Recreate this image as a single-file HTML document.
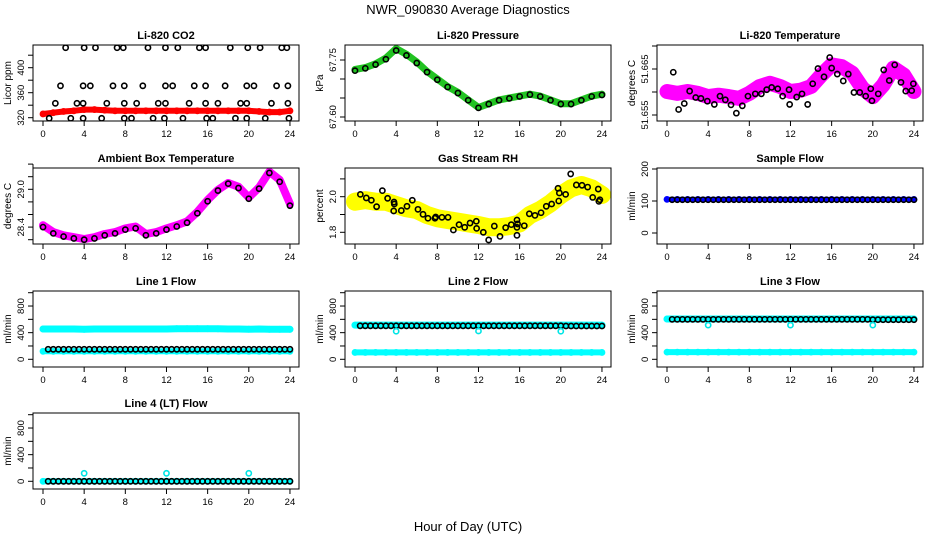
<!DOCTYPE html>
<html><head><meta charset="utf-8"><style>
body{margin:0;background:#fff}
svg{display:block;font-family:"Liberation Sans",Arial,sans-serif}
</style></head><body>
<svg id="c" width="936" height="540" viewBox="0 0 936 540">
<text x="468" y="14" text-anchor="middle" font-size="13">NWR_090830  Average Diagnostics</text>
<text x="468" y="531" text-anchor="middle" font-size="13">Hour of Day (UTC)</text>
</svg>
<script>
// ---------- DATA ----------
const hours = [0,1,2,3,4,5,6,7,8,9,10,11,12,13,14,15,16,17,18,19,20,21,22,23,24];
const xTicks = [0,4,8,12,16,20,24];
const halfHours = [0.5,1,1.5,2,2.5,3,3.5,4,4.5,5,5.5,6,6.5,7,7.5,8,8.5,9,9.5,10,10.5,11,11.5,12,12.5,13,13.5,14,14.5,15,15.5,16,16.5,17,17.5,18,18.5,19,19.5,20,20.5,21,21.5,22,22.5,23,23.5,24];

const co2Red = [326,328,330,331,333,333,332,331,331,331,331,331,331,331,331,331,331,331,331,331,331,330,329,329,331];
const co2BlackHours = [2.2,4.0,5.1,7.2,7.8,10.2,11.9,13.1,15.2,15.8,18.2,19.9,21.1,23.2,23.7,
 1.7,3.9,4.6,6.8,7.9,9.7,11.9,12.6,14.7,15.8,17.7,19.8,20.5,22.7,23.8,
 1.2,3.3,3.9,6.2,7.9,9.1,11.2,11.9,14.2,15.8,17.0,19.2,19.8,22.2,23.8,
 0.6,2.7,3.9,5.7,7.9,8.6,10.7,11.8,13.6,15.9,16.5,18.7,19.8,21.6,23.9];
const co2BlackVals = [432,432,432,432,432,432,432,432,432,432,432,432,432,432,432,
 371,371,371,371,371,371,371,371,371,371,371,371,371,371,371,
 343,343,343,343,343,343,343,343,343,343,343,343,343,343,343,
 319,319,319,319,319,319,319,319,319,319,319,319,319,319,319];

const pressGreen = [67.725,67.73,67.74,67.755,67.78,67.765,67.745,67.72,67.70,67.68,67.665,67.645,67.625,67.635,67.645,67.65,67.655,67.66,67.655,67.645,67.635,67.635,67.645,67.655,67.66];
const pressBlack = [67.722,67.728,67.738,67.752,67.775,67.762,67.742,67.718,67.698,67.679,67.663,67.644,67.624,67.634,67.644,67.649,67.654,67.659,67.654,67.644,67.634,67.634,67.644,67.654,67.658];

const tempMag = [51.6601,51.6597,51.6601,51.6597,51.6590,51.6593,51.6590,51.6586,51.6597,51.6612,51.6619,51.6612,51.6601,51.6604,51.6612,51.6637,51.6659,51.6655,51.6641,51.6608,51.6590,51.6615,51.6652,51.6637,51.6601];
const tempBlackHours = [0.61,1.13,1.68,2.2,2.79,3.3,3.92,4.6,5.15,5.67,6.22,6.74,7.32,7.87,8.58,9.17,9.69,10.17,10.76,11.24,11.86,11.92,12.6,13.12,13.67,14.16,14.67,15.26,15.81,16.0,16.55,17.13,17.62,18.17,18.73,19.31,19.8,19.92,20.53,21.06,21.6,22.13,22.74,23.2,23.78,23.94];
const tempBlackVals = [51.6643,51.6562,51.6575,51.6602,51.6588,51.6586,51.6580,51.6573,51.6591,51.6583,51.6572,51.6554,51.6570,51.6591,51.6596,51.6596,51.6605,51.6610,51.6607,51.6591,51.6605,51.6573,51.6589,51.6596,51.6573,51.6618,51.6651,51.6633,51.6675,51.6652,51.6639,51.6624,51.6639,51.6599,51.6599,51.6591,51.6607,51.6581,51.6596,51.6648,51.6625,51.6659,51.6621,51.6602,51.6603,51.6618];

const ambMag = [28.43,28.32,28.27,28.24,28.21,28.24,28.29,28.32,28.38,28.41,28.29,28.32,28.38,28.43,28.49,28.64,28.83,28.99,29.10,29.04,28.87,29.03,29.28,29.15,28.77];
const ambBlack = [28.40,28.30,28.25,28.22,28.20,28.22,28.27,28.30,28.36,28.38,28.27,28.30,28.36,28.41,28.47,28.62,28.81,28.98,29.09,29.02,28.85,29.01,29.26,29.12,28.74];

const rhYellow = [1.972,1.981,1.972,1.972,1.953,1.935,1.925,1.897,1.879,1.869,1.86,1.85,1.841,1.828,1.828,1.835,1.85,1.897,1.925,1.963,2.01,2.047,2.066,2.047,2.01];
const rhBlackHours = [0.52,1.10,1.59,2.1,2.66,3.17,3.79,3.82,3.76,4.5,5.05,5.57,6.12,6.61,7.09,7.77,7.84,8.45,9.04,9.56,10.11,10.66,11.18,11.79,11.82,12.47,12.99,13.54,14.09,14.64,15.19,15.74,15.74,15.74,15.8,16.45,16.94,17.49,18.08,18.59,19.11,19.73,19.8,19.86,20.47,20.96,21.51,22.06,22.61,23.1,23.64,23.7,23.8];
const rhBlackVals = [2.013,1.993,1.980,1.944,2.034,1.991,1.970,1.959,1.920,1.922,1.946,1.980,1.929,1.901,1.879,1.879,1.886,1.884,1.884,1.813,1.843,1.828,1.852,1.862,1.822,1.8,1.757,1.835,1.777,1.826,1.843,1.869,1.828,1.783,1.847,1.837,1.904,1.895,1.910,1.946,1.959,2.047,1.976,2.021,2.013,2.128,2.066,2.064,2.054,1.996,2.043,1.974,1.983];

const sampleBlue = [105,105,105,105,105,105,105,105,105,105,105,105,105,105,105,105,105,105,105,105,105,105,105,105,105];
const sampleBlack = [104,104,104,104,104,104,104,104,104,104,104,104,104,104,104,104,104,104,104,104,104,104,104,104,104,104,104,104,104,104,104,104,104,104,104,104,104,104,104,104,104,104,104,104,104,104,104,104];

const line1CyanHigh = [455,455,455,455,450,455,455,455,455,455,455,455,455,460,460,460,460,458,455,455,452,455,450,450,450];
const line1CyanLow = [120,120,120,120,120,120,120,120,120,120,120,120,120,120,120,120,120,120,120,120,120,120,120,120,120];
const line1Black = [150,150,150,150,150,150,150,150,150,150,150,150,150,150,150,150,150,150,150,150,150,150,150,150,150,150,150,150,150,150,150,150,150,150,150,150,150,150,150,150,150,150,150,150,150,150,150,150];

const line2CyanHigh = [513,513,513,513,513,513,513,513,513,513,513,513,513,513,513,513,513,513,513,513,513,513,513,513,513];
const line2CyanLow = [103,103,103,103,103,103,103,103,103,103,103,103,103,103,103,103,103,103,103,103,103,103,103,103,103];
const line2Black = [503,503,503,503,503,503,503,503,503,503,503,503,503,503,503,503,503,503,503,503,503,503,503,503,503,503,503,503,503,503,503,503,503,503,503,503,503,503,503,503,500,500,500,500,500,500,500,500];

const line3CyanHigh = [605,605,605,605,605,605,605,605,605,605,605,605,605,605,605,605,605,605,605,605,605,605,605,605,605];
const line3CyanLow = [108,108,108,108,108,108,108,108,108,108,108,108,108,108,108,108,108,108,108,108,108,108,108,108,108];
const line3Black = [600,600,600,600,600,600,600,600,600,600,600,600,600,600,600,600,600,600,600,600,600,600,600,600,600,600,600,600,600,600,600,600,600,600,600,600,600,600,600,595,595,595,595,595,595,595,595,595];

const line4Cyan = [0,0,0,0,0,0,0,0,0,0,0,0,0,0,0,0,0,0,0,0,0,0,0,0,0];
const line4Black = [0,0,0,0,0,0,0,0,0,0,0,0,0,0,0,0,0,0,0,0,0,0,0,0,0,0,0,0,0,0,0,0,0,0,0,0,0,0,0,0,0,0,0,0,0,0,0,0];

const outlierHours = [4,12,20];
const line2Outliers = [421,425,421];
const line3Outliers = [513,513,513];
const line4Outliers = [120,120,120];

// ---------- DRAWING ----------
const svg = document.getElementById('c');
const NS = 'http://www.w3.org/2000/svg';
const colX = [33,345,657], rowY = [45,168,291,413], W = 266, H = 76;

function mk(tag, attrs, parent){
  const e = document.createElementNS(NS, tag);
  for (const k in attrs) e.setAttribute(k, attrs[k]);
  (parent||svg).appendChild(e);
  return e;
}

function panel(col,row,name,title,ylab,yv1,yp1,yv2,yp2,yTicks,yLabels){
  const x0 = colX[col], y0 = rowY[row];
  const g = mk('g',{});
  
  
  const xs = h => x0 + 10 + h * 10.29;
  const ys = v => y0 + yp1 + (v - yv1) * (yp2 - yp1) / (yv2 - yv1);
  const t = mk('text',{x:x0+W/2,y:y0-6,'text-anchor':'middle','font-size':11,'font-weight':'bold'},g);
  t.textContent = title;
  
  
  const yl = mk('text',{x:0,y:0,'text-anchor':'middle','font-size':10,transform:`translate(${x0-22},${y0+H/2}) rotate(-90)`},g);
  yl.textContent = ylab;
  
  
  const xa = mk('g',{stroke:'#000','stroke-width':1},g);
  
  
  mk('line',{x1:xs(xTicks[0]),x2:xs(xTicks[xTicks.length-1]),y1:y0+H,y2:y0+H},xa);
  xTicks.forEach(v=>{
    mk('line',{x1:xs(v),x2:xs(v),y1:y0+H,y2:y0+H+5},xa);
    const l = mk('text',{x:xs(v),y:y0+H+16,'text-anchor':'middle','font-size':9.5,stroke:'none'},g);
    l.textContent = v;
    
    
  });
  const ya = mk('g',{stroke:'#000','stroke-width':1},g);
  
  
  mk('line',{x1:x0,x2:x0,y1:ys(yTicks[0]),y2:ys(yTicks[yTicks.length-1])},ya);
  yTicks.forEach(v=>mk('line',{x1:x0-5,x2:x0,y1:ys(v),y2:ys(v)},ya));
  yLabels.forEach(v=>{
    const l = mk('text',{x:0,y:0,'text-anchor':'middle','font-size':9.5,transform:`translate(${x0-9},${ys(v)}) rotate(-90)`},g);
    l.textContent = v;
    
    
  });
  const cid = 'clip' + col + row;
  const cp = mk('clipPath',{id:cid},g);
  mk('rect',{x:x0,y:y0,width:W,height:H},cp);
  const area = mk('g',{'clip-path':`url(#${cid})`},g);
  const box = mk('rect',{x:x0,y:y0,width:W,height:H,fill:'none',stroke:'#000','stroke-width':1},g);
  
  
  return {xs, ys, area, name};
}

function band(p, hs, vals, color, width, label){
  const s = mk('g',{},p.area);
  
  
  const pts = hs.map((h,i)=>p.xs(h).toFixed(1)+','+p.ys(vals[i]).toFixed(1)).join(' ');
  mk('polyline',{points:pts,fill:'none',stroke:color,'stroke-width':width,'stroke-linejoin':'round','stroke-linecap':'round'},s);
  hs.forEach((h,i)=>mk('circle',{cx:p.xs(h),cy:p.ys(vals[i]),r:2.6,fill:'none',stroke:color,'stroke-width':1.6},s));
}
function pts(p, hs, vals, color, label){
  const s = mk('g',{},p.area);
  
  
  hs.forEach((h,i)=>{
    const c = mk('circle',{cx:p.xs(h),cy:p.ys(vals[i]),r:2.6,fill:'none',stroke:color,'stroke-width':1.6},s);
    
    
  });
}

let p = panel(0,0,'co2','Li-820 CO2','Licor ppm',320,72.7,400,22.7,[320,340,360,380,400,420],[320,360,400]);
band(p,hours,co2Red,'#ff0000',6,'red-series');
pts(p,co2BlackHours,co2BlackVals,'#000','black-points');

p = panel(1,0,'pressure','Li-820 Pressure','kPa',67.60,72,67.75,15,[67.60,67.65,67.70,67.75],['67.60','67.75']);
band(p,hours,pressGreen,'#22c322',7,'green-series');
pts(p,hours,pressBlack,'#000','black-points');

p = panel(2,0,'li820-temp','Li-820 Temperature','degrees C',51.655,70,51.665,24,[51.655,51.66,51.665,51.67],['51.655','51.665']);
band(p,hours,tempMag,'#ff00ff',15,'magenta-series');
pts(p,tempBlackHours,tempBlackVals,'#000','black-points');

p = panel(0,1,'ambient','Ambient Box Temperature','degrees C',28.2,71.7,29.0,21.3,[28.2,28.4,28.6,28.8,29.0,29.2,29.4],['28.4','29.0']);
band(p,hours,ambMag,'#ff00ff',8,'magenta-series');
pts(p,hours,ambBlack,'#000','black-points');

p = panel(1,1,'rh','Gas Stream RH','percent',2.0,28.7,1.8,64.3,[1.8,1.9,2.0,2.1],['1.8','2.0']);
band(p,hours,rhYellow,'#ffff00',18,'yellow-series');
pts(p,rhBlackHours,rhBlackVals,'#000','black-points');

p = panel(2,1,'sample-flow','Sample Flow','ml/min',0,65,200,1,[0,100,200],['0','100','200']);
band(p,hours,sampleBlue,'#0000ff',5,'blue-series');
pts(p,halfHours,sampleBlack,'#000','black-points');

const fT = [0,200,400,600,800,1000], fL = ['0','400','800'];
p = panel(0,2,'line1-flow','Line 1 Flow','ml/min',0,68.3,1000,1.7,fT,fL);
band(p,hours,line1CyanHigh,'#00ffff',7,'cyan-high-series');
band(p,hours,line1CyanLow,'#00ffff',6,'cyan-low-series');
pts(p,halfHours,line1Black,'#000','black-points');

p = panel(1,2,'line2-flow','Line 2 Flow','ml/min',0,68.3,1000,1.7,fT,fL);
band(p,hours,line2CyanHigh,'#00ffff',7,'cyan-high-series');
band(p,hours,line2CyanLow,'#00ffff',6,'cyan-low-series');
pts(p,halfHours,line2Black,'#000','black-points');
pts(p,outlierHours,line2Outliers,'#00e5e5','cyan-outliers');

p = panel(2,2,'line3-flow','Line 3 Flow','ml/min',0,68.3,1000,1.7,fT,fL);
band(p,hours,line3CyanHigh,'#00ffff',7,'cyan-high-series');
band(p,hours,line3CyanLow,'#00ffff',6,'cyan-low-series');
pts(p,halfHours,line3Black,'#000','black-points');
pts(p,outlierHours,line3Outliers,'#00e5e5','cyan-outliers');

p = panel(0,3,'line4-flow','Line 4 (LT) Flow','ml/min',0,68.3,1000,1.7,fT,fL);
band(p,hours,line4Cyan,'#00ffff',6,'cyan-series');
pts(p,halfHours,line4Black,'#000','black-points');
pts(p,outlierHours,line4Outliers,'#00e5e5','cyan-outliers');
</script>
</body></html>
